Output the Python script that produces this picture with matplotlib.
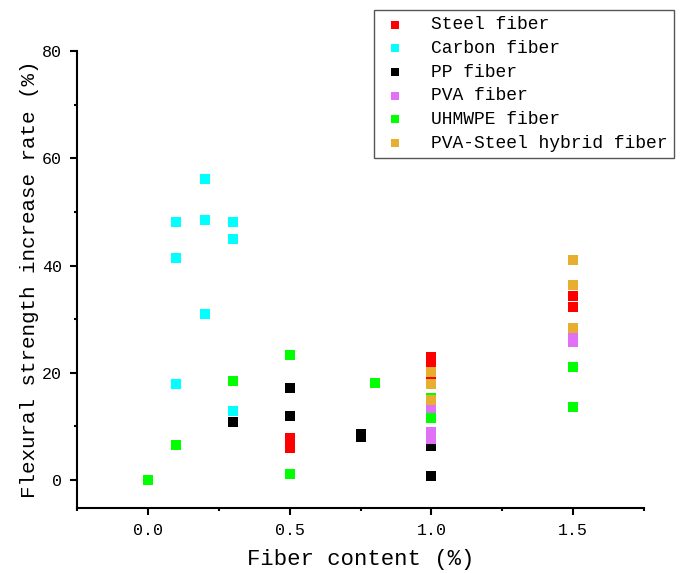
import matplotlib
matplotlib.use("Agg")
import matplotlib.pyplot as plt
from matplotlib.ticker import FixedLocator

# ---- data ----
series_names = ["Steel fiber", "Carbon fiber", "PP fiber", "PVA fiber",
                "UHMWPE fiber", "PVA-Steel hybrid fiber"]

steel_x = [0.5, 0.5, 1.0, 1.0, 1.0, 1.5, 1.5]
steel_y = [6.0, 7.8, 22.9, 22.0, 19.2, 34.3, 32.2]

carbon_x = [0.1, 0.1, 0.1, 0.2, 0.2, 0.2, 0.3, 0.3, 0.3]
carbon_y = [48.1, 41.5, 18.0, 56.1, 48.4, 30.9, 48.1, 44.9, 12.9]

pp_x = [0.3, 0.5, 0.5, 0.75, 0.75, 1.0, 1.0]
pp_y = [10.8, 17.2, 12.0, 8.6, 8.0, 6.3, 0.8]

pva_x = [1.0, 1.0, 1.0, 1.5, 1.5]
pva_y = [13.0, 9.0, 7.6, 26.6, 25.8]

uhmwpe_x = [0.0, 0.1, 0.3, 0.5, 0.5, 0.8, 1.0, 1.0, 1.5, 1.5]
uhmwpe_y = [0.0, 6.5, 18.5, 23.4, 1.1, 18.1, 15.3, 11.6, 21.1, 13.6]

hybrid_x = [1.0, 1.0, 1.0, 1.5, 1.5, 1.5]
hybrid_y = [20.1, 18.0, 15.0, 41.0, 36.3, 28.3]

x_ticks = [0.0, 0.5, 1.0, 1.5]
x_tick_labels = ["0.0", "0.5", "1.0", "1.5"]
y_ticks = [0, 20, 40, 60, 80]

colors = ["#FF0000", "#00FFFF", "#000000", "#E070F5", "#00FF00", "#E8AE30"]

# ---- plot ----
plt.rcParams["font.family"] = ["Liberation Mono", "DejaVu Sans Mono"]

fig = plt.figure(figsize=(6.83, 5.73), dpi=100)
ax = fig.add_axes([77/683, 1-508/573, (644-77)/683, (508-51)/573])

data = [(steel_x, steel_y), (carbon_x, carbon_y), (pp_x, pp_y),
        (pva_x, pva_y), (uhmwpe_x, uhmwpe_y), (hybrid_x, hybrid_y)]
for (xs, ys), c, name in zip(data, colors, series_names):
    ax.scatter(xs, ys, marker="s", s=46, color=c, linewidths=0, label=name)

ax.set_xlim(-0.25, 1.75)
ax.set_ylim(-5.2, 80)

ax.spines["top"].set_visible(False)
ax.spines["right"].set_visible(False)
for sp in ("left", "bottom"):
    ax.spines[sp].set_linewidth(1.5)

ax.xaxis.set_major_locator(FixedLocator(x_ticks))
ax.set_xticklabels(x_tick_labels)
ax.xaxis.set_minor_locator(FixedLocator([-0.25, 0.25, 0.75, 1.25, 1.75]))
ax.yaxis.set_major_locator(FixedLocator(y_ticks))
ax.yaxis.set_minor_locator(FixedLocator([10, 30, 50, 70]))

ax.tick_params(which="major", direction="out", length=5, width=1.5, labelsize=12, pad=6)
ax.tick_params(which="minor", direction="out", length=2.5, width=1.5)

ax.set_xlabel("Fiber content (%)", fontsize=16, labelpad=8)
ax.set_ylabel("Flexural strength increase rate (%)", fontsize=15, labelpad=2)

leg = ax.legend(loc="upper left", bbox_to_anchor=(374/683, 1-10/573),
                bbox_transform=fig.transFigure, borderaxespad=0,
                fontsize=13, frameon=True,
                fancybox=False, edgecolor="#555555", framealpha=1,
                labelspacing=0.37, handletextpad=1.2, borderpad=0.35,
                handlelength=1.6, scatterpoints=1, markerscale=0.8)
leg.get_frame().set_linewidth(1.0)

fig.savefig("out.png", dpi=100)
